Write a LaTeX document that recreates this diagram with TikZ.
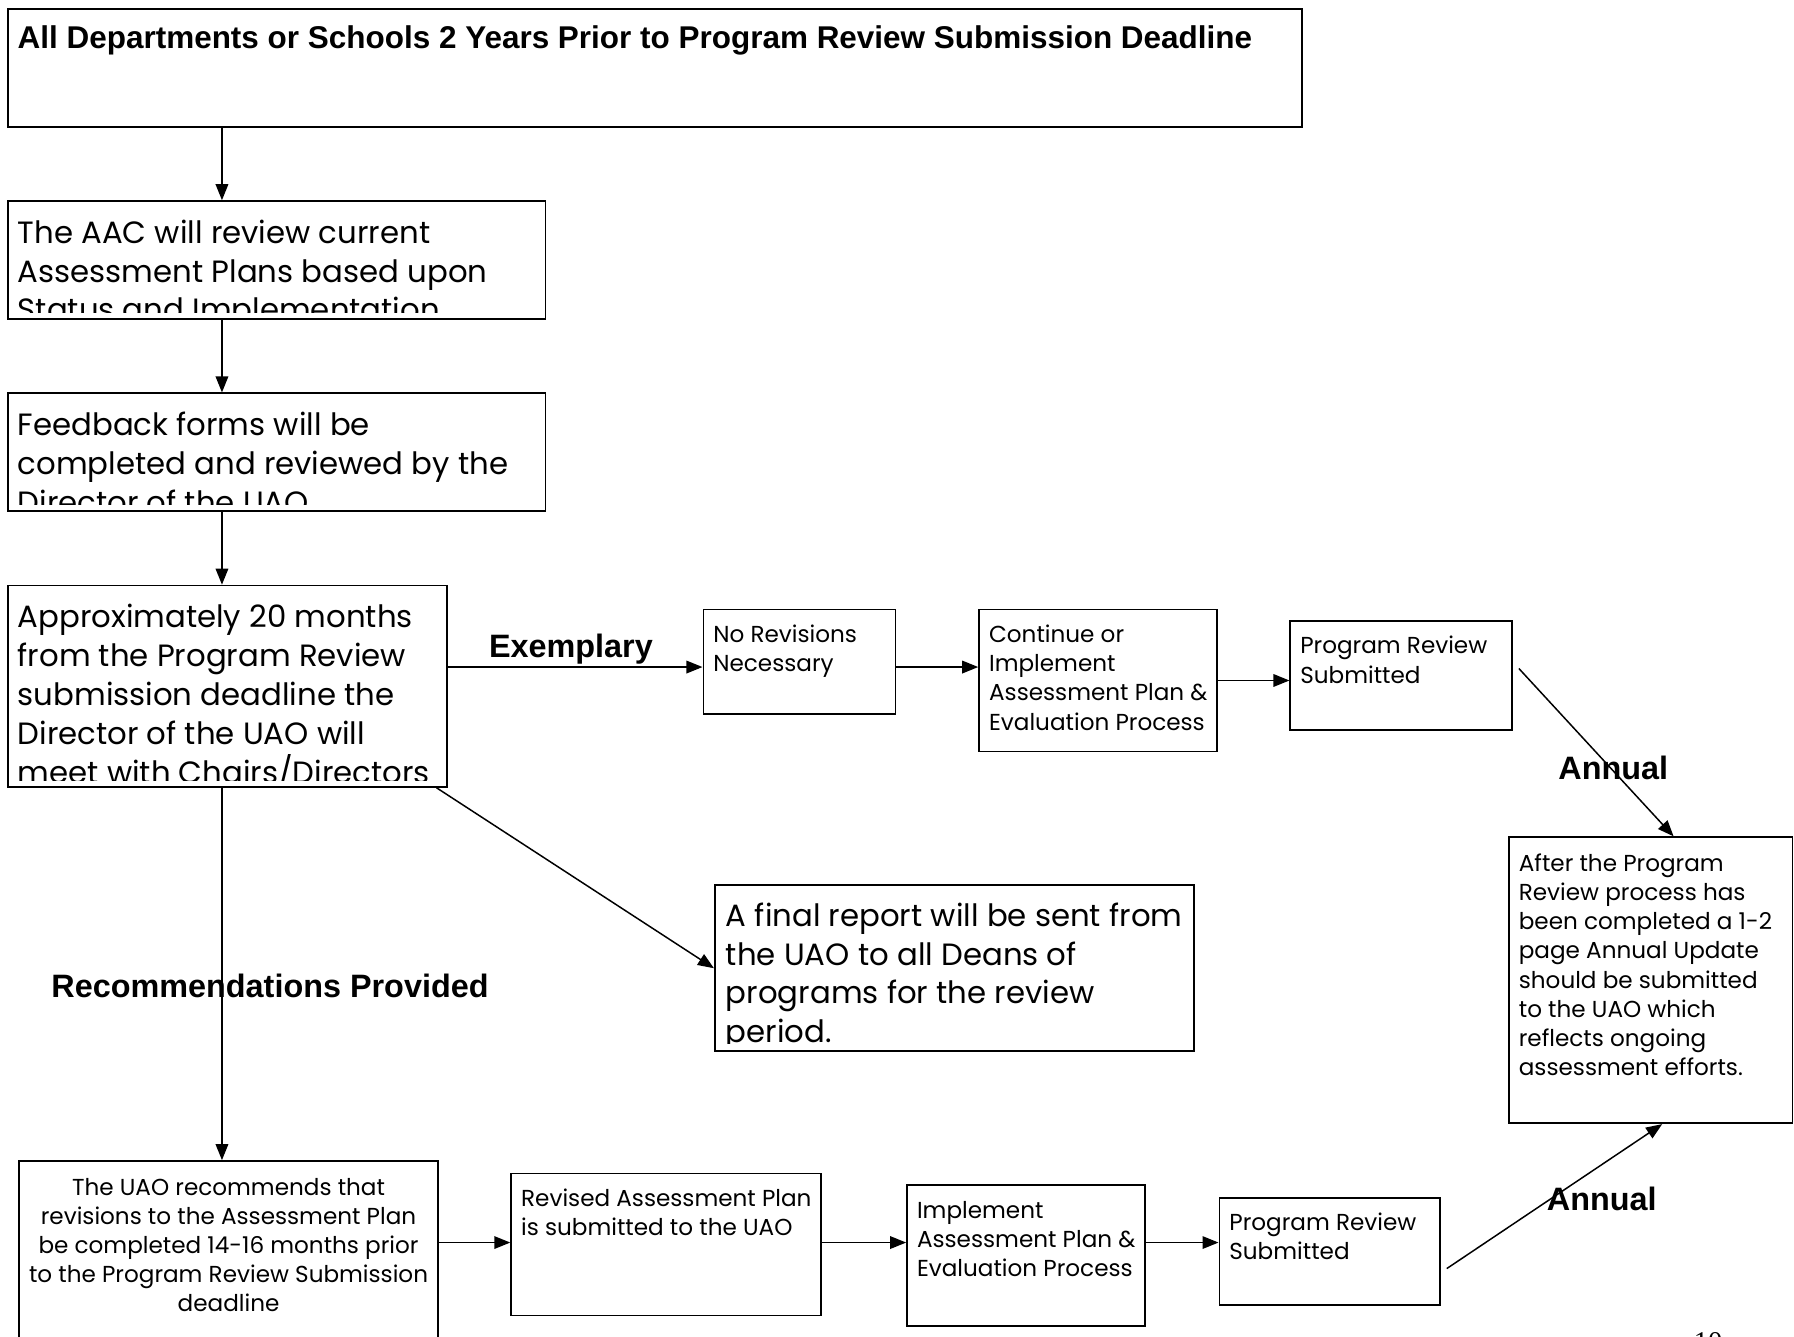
\documentclass[tikz,border=0pt]{standalone}
\usepackage{fontspec}
\newfontfamily\arialfont{Liberation Sans}
\newfontfamily\timesfont{Liberation Serif}
\IfFileExists{tgadventor.sty}{%
  \usepackage[T1,TU]{fontenc}%
  \newcommand\gothicfont{\fontencoding{T1}\fontfamily{qag}\selectfont}}{%
  \newfontfamily\gothicfont{Poppins}}
\usetikzlibrary{positioning, arrows.meta}

\begin{document}
\begin{tikzpicture}[
    x=1pt, y=-1pt,
    box/.style={rectangle, draw=black, line width=1.5pt, anchor=north west, inner sep=0pt},
    intxt/.style={draw=none, minimum width=0pt, minimum height=0pt, inner sep=0pt, align=left},
    bigtxt/.style={intxt, font=\gothicfont\fontsize{26.9}{34}\selectfont, anchor=north west},
    smalltxt/.style={intxt, font=\gothicfont\fontsize{20.2}{25.5}\selectfont, anchor=north west},
    bigin/.style={path picture={
      \clip (path picture bounding box.north west) rectangle ([yshift=6pt]path picture bounding box.south east);
      \node[bigtxt] at ([shift={(8,12.2)}]path picture bounding box.north west) {\strut #1};}},
    smallin/.style={path picture={\node[smalltxt] at ([shift={(8,10.2)}]path picture bounding box.north west) {\strut #1};}},
    boldlabel/.style={font=\arialfont\bfseries\fontsize{28.3}{32}\selectfont, anchor=base, inner sep=0pt},
    arr/.style={-{Triangle[length=14pt,width=11pt]}, line width=1.3pt},
]
\useasboundingbox (0,0) rectangle (1568,1168);
\clip (0,0) rectangle (1568,1168);

% Left column
\node[box, minimum width=1131pt, minimum height=103pt,
  path picture={\node[intxt, font=\arialfont\bfseries\fontsize{27.5}{32}\selectfont, anchor=base west]
    at ([shift={(8,35)}]path picture bounding box.north west)
    {All Departments or Schools 2 Years Prior to Program Review Submission Deadline};}]
  (top) at (6,7) {};
\node[box, minimum width=470pt, minimum height=103pt,
  bigin={The AAC will review current\\Assessment Plans based upon\\Status and Implementation}]
  (aac) at (6,175) {};
\node[box, minimum width=470pt, minimum height=103pt,
  bigin={Feedback forms will be\\completed and reviewed by the\\Director of the UAO}]
  (feedback) at (6,343) {};
\node[box, minimum width=384pt, minimum height=176pt,
  bigin={Approximately 20 months\\from the Program Review\\submission deadline the\\Director of the UAO will\\meet with Chairs/Directors}]
  (approx) at (6,511) {};

% Exemplary row
\node[box, minimum width=168pt, minimum height=91pt,
  smallin={No Revisions\\Necessary}] (norev) at (614,532) {};
\node[box, minimum width=208pt, minimum height=124pt,
  smallin={Continue or\\Implement\\Assessment Plan \&\\Evaluation Process}] (cont) at (855,532) {};
\node[box, minimum width=194pt, minimum height=95pt,
  smallin={Program Review\\Submitted}] (prsubA) at (1127,542) {};

% Annual update
\node[box, minimum width=248pt, minimum height=250pt,
  path picture={\node[smalltxt] at ([shift={(8,11.2)}]path picture bounding box.north west)
    {\strut After the Program\\Review process has\\been completed a 1-2\\page Annual Update\\should be submitted\\to the UAO which\\reflects ongoing\\assessment efforts.};}]
  (after) at (1318,731) {};

% Final report
\node[box, minimum width=419pt, minimum height=145pt,
  path picture={
    \clip (path picture bounding box.north west) rectangle ([yshift=7pt]path picture bounding box.south east);
    \node[bigtxt] at ([shift={(9,11.2)}]path picture bounding box.north west)
    {\strut A final report will be sent from\\the UAO to all Deans of\\programs for the review\\period.};}]
  (final) at (624,773) {};

% Recommendations row
\node[box, minimum width=366pt, minimum height=175pt,
  path picture={\node[smalltxt, align=center, anchor=north] at ([shift={(0,11.2)}]path picture bounding box.north)
    {\strut The UAO recommends that\\revisions to the Assessment Plan\\be completed 14-16 months prior\\to the Program Review Submission\\deadline};}]
  (uao) at (16,1014) {};
\node[box, minimum width=271pt, minimum height=124pt,
  smallin={Revised Assessment Plan\\is submitted to the UAO}] (revised) at (446,1025) {};
\node[box, minimum width=208pt, minimum height=123pt,
  smallin={Implement\\Assessment Plan \&\\Evaluation Process}] (impl) at (792,1035) {};
\node[box, minimum width=193pt, minimum height=94pt,
  smallin={Program Review\\Submitted}] (prsubB) at (1065,1046) {};

% Connectors
\coordinate (col) at (194,0);
\coordinate (rowA) at (0,583);
\coordinate (rowB) at (0,1086);
\draw[arr] (top.south -| col) -- (aac.north -| col);
\draw[arr] (aac.south -| col) -- (feedback.north -| col);
\draw[arr] (feedback.south -| col) -- (approx.north -| col);
\draw[arr] (approx.south -| col) -- (uao.north -| col);
\draw[arr] (approx.east |- rowA) -- (norev.west |- rowA);
\draw[arr] (norev.east |- rowA) -- (cont.west |- rowA);
\draw[arr] (cont.east) -- (cont.east -| prsubA.west);
\draw[arr] ([shift={(5,-6)}]prsubA.east) -- ([xshift=20]after.north);
\draw[arr] ([xshift=-10]approx.south east) -- (final.west);
\draw[arr] (uao.east |- rowB) -- (revised.west |- rowB);
\draw[arr] (revised.east |- rowB) -- (impl.west |- rowB);
\draw[arr] (impl.east |- rowB) -- (prsubB.west |- rowB);
\draw[arr] ([shift={(5,15)}]prsubB.east) -- ([xshift=10]after.south);

% Labels
\node[boldlabel] (exemplary) at (499,575) {Exemplary};
\node[boldlabel] (recs) at (236,872) {Recommendations Provided};
\node[boldlabel] (annualA) at (1410,681) {Annual};
\node[boldlabel] (annualB) at (1400,1058) {Annual};

% Page number
\node[font=\timesfont\fontsize{25}{30}\selectfont, anchor=base, inner sep=0pt] (pageno) at (1493,1181) {10};
\end{tikzpicture}
\end{document}
